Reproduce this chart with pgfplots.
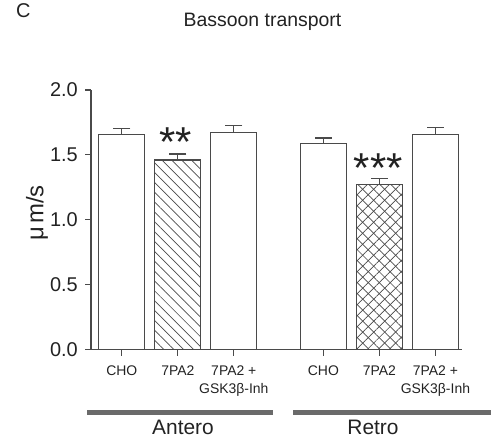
\documentclass[border=0pt]{standalone}
\usepackage{fontspec}
\setmainfont{Liberation Sans}
\usepackage{pgfplots}
\pgfplotsset{compat=1.18}
\usetikzlibrary{patterns.meta}
\definecolor{axgray}{HTML}{4A4A4A}
\definecolor{txtgray}{HTML}{222222}
\definecolor{grpgray}{HTML}{6A6A6A}
\begin{document}
\begin{tikzpicture}
\begin{axis}[
  at={(0,0)}, anchor=south west,
  width=370.7bp, height=259.5bp, scale only axis,
  xmin=-0.55, xmax=6.07, ymin=0, ymax=2,
  axis x line*=bottom, axis y line*=left,
  axis line style={axgray, line width=1.2bp},
  every tick/.style={axgray, line width=1.2bp},
  tick align=outside, major tick length=6bp,
  ytick={0,0.5,1,1.5,2},
  /pgf/number format/.cd, fixed, fixed zerofill, precision=1, assume math mode=true,
  /pgfplots/.cd,
  yticklabel style={font=\fontsize{20}{24}\selectfont, text=txtgray, anchor=east, inner sep=0pt, xshift=-7bp},
  xtick={0,1,2,3.6,4.6,5.6},
  xticklabels={CHO,7PA2,{7PA2 +\\GSK3β-Inh},CHO,7PA2,{7PA2 +\\GSK3β-Inh}},
  xticklabel style={font=\fontsize{14}{18}\selectfont, text=txtgray, align=center, anchor=north, inner sep=0pt, yshift=-10bp},
  clip=false,
]
% error stems (value + SEM)
\addplot[draw=none, no markers, forget plot,
  error bars/.cd, y dir=plus, y explicit, error mark=none,
  error bar style={draw=axgray, line width=1.2bp}]
  coordinates {(0,1.659) +- (0,0.043) (1,1.46) +- (0,0.047) (2,1.674) +- (0,0.051)
               (3.6,1.589) +- (0,0.041) (4.6,1.273) +- (0,0.047) (5.6,1.659) +- (0,0.053)};
\addplot[ybar, bar width=0.82, bar shift=0pt, fill=white, draw=axgray, line width=1.2bp]
  coordinates {(0,1.659) (2,1.674) (3.6,1.589) (5.6,1.659)};
\addplot[ybar, bar width=0.82, bar shift=0pt, fill=white, draw=axgray, line width=1.2bp,
  postaction={pattern={Lines[angle=-45,distance=7pt,line width=0.7bp]}, pattern color=axgray}]
  coordinates {(1,1.46)};
\addplot[ybar, bar width=0.82, bar shift=0pt, fill=white, draw=axgray, line width=1.2bp,
  postaction={pattern={Lines[angle=-45,distance=7.8pt,line width=0.7bp]}, pattern color=axgray},
  postaction={pattern={Lines[angle=45,distance=7.8pt,line width=0.7bp]}, pattern color=axgray}]
  coordinates {(4.6,1.273)};
% error caps at value + SEM
\addplot[only marks, mark=-, mark size=8.5bp, mark options={draw=axgray, line width=1.2bp}]
  coordinates {(0,1.702) (1,1.507) (2,1.725) (3.6,1.630) (4.6,1.320) (5.6,1.712)};
\node[anchor=base, font=\fontsize{42}{42}\selectfont, text=txtgray, inner sep=0pt] at (axis cs:0.96,1.49) {**};
\node[anchor=base, font=\fontsize{42}{42}\selectfont, text=txtgray, inner sep=0pt] at (axis cs:4.58,1.285) {***};
\end{axis}
\begin{scope}[x=1bp, y=-1bp, shift={(-91bp,349.5bp)}]
  \useasboundingbox (0,0) rectangle (491,442);
  \node[anchor=base, font=\fontsize{19.5}{20}\selectfont, text=txtgray, inner sep=0pt] at (262.5,27) {Bassoon transport};
  \node[anchor=base west, font=\fontsize{20}{20}\selectfont, text=txtgray, inner sep=0pt] at (16,18) {C};
  \node[rotate=90, font=\fontsize{24}{24}\selectfont, text=txtgray, inner sep=0pt] at (37,213) {μ\hspace{3bp}m/s};
  \fill[grpgray] (87,410) rectangle (273,415.5);
  \fill[grpgray] (293,410) rectangle (491,415.5);
  \node[anchor=base, font=\fontsize{21}{21}\selectfont, text=txtgray, inner sep=0pt] at (183,435) {Antero};
  \node[anchor=base, font=\fontsize{21}{21}\selectfont, text=txtgray, inner sep=0pt] at (373,435) {Retro};
\end{scope}
\end{tikzpicture}
\end{document}
